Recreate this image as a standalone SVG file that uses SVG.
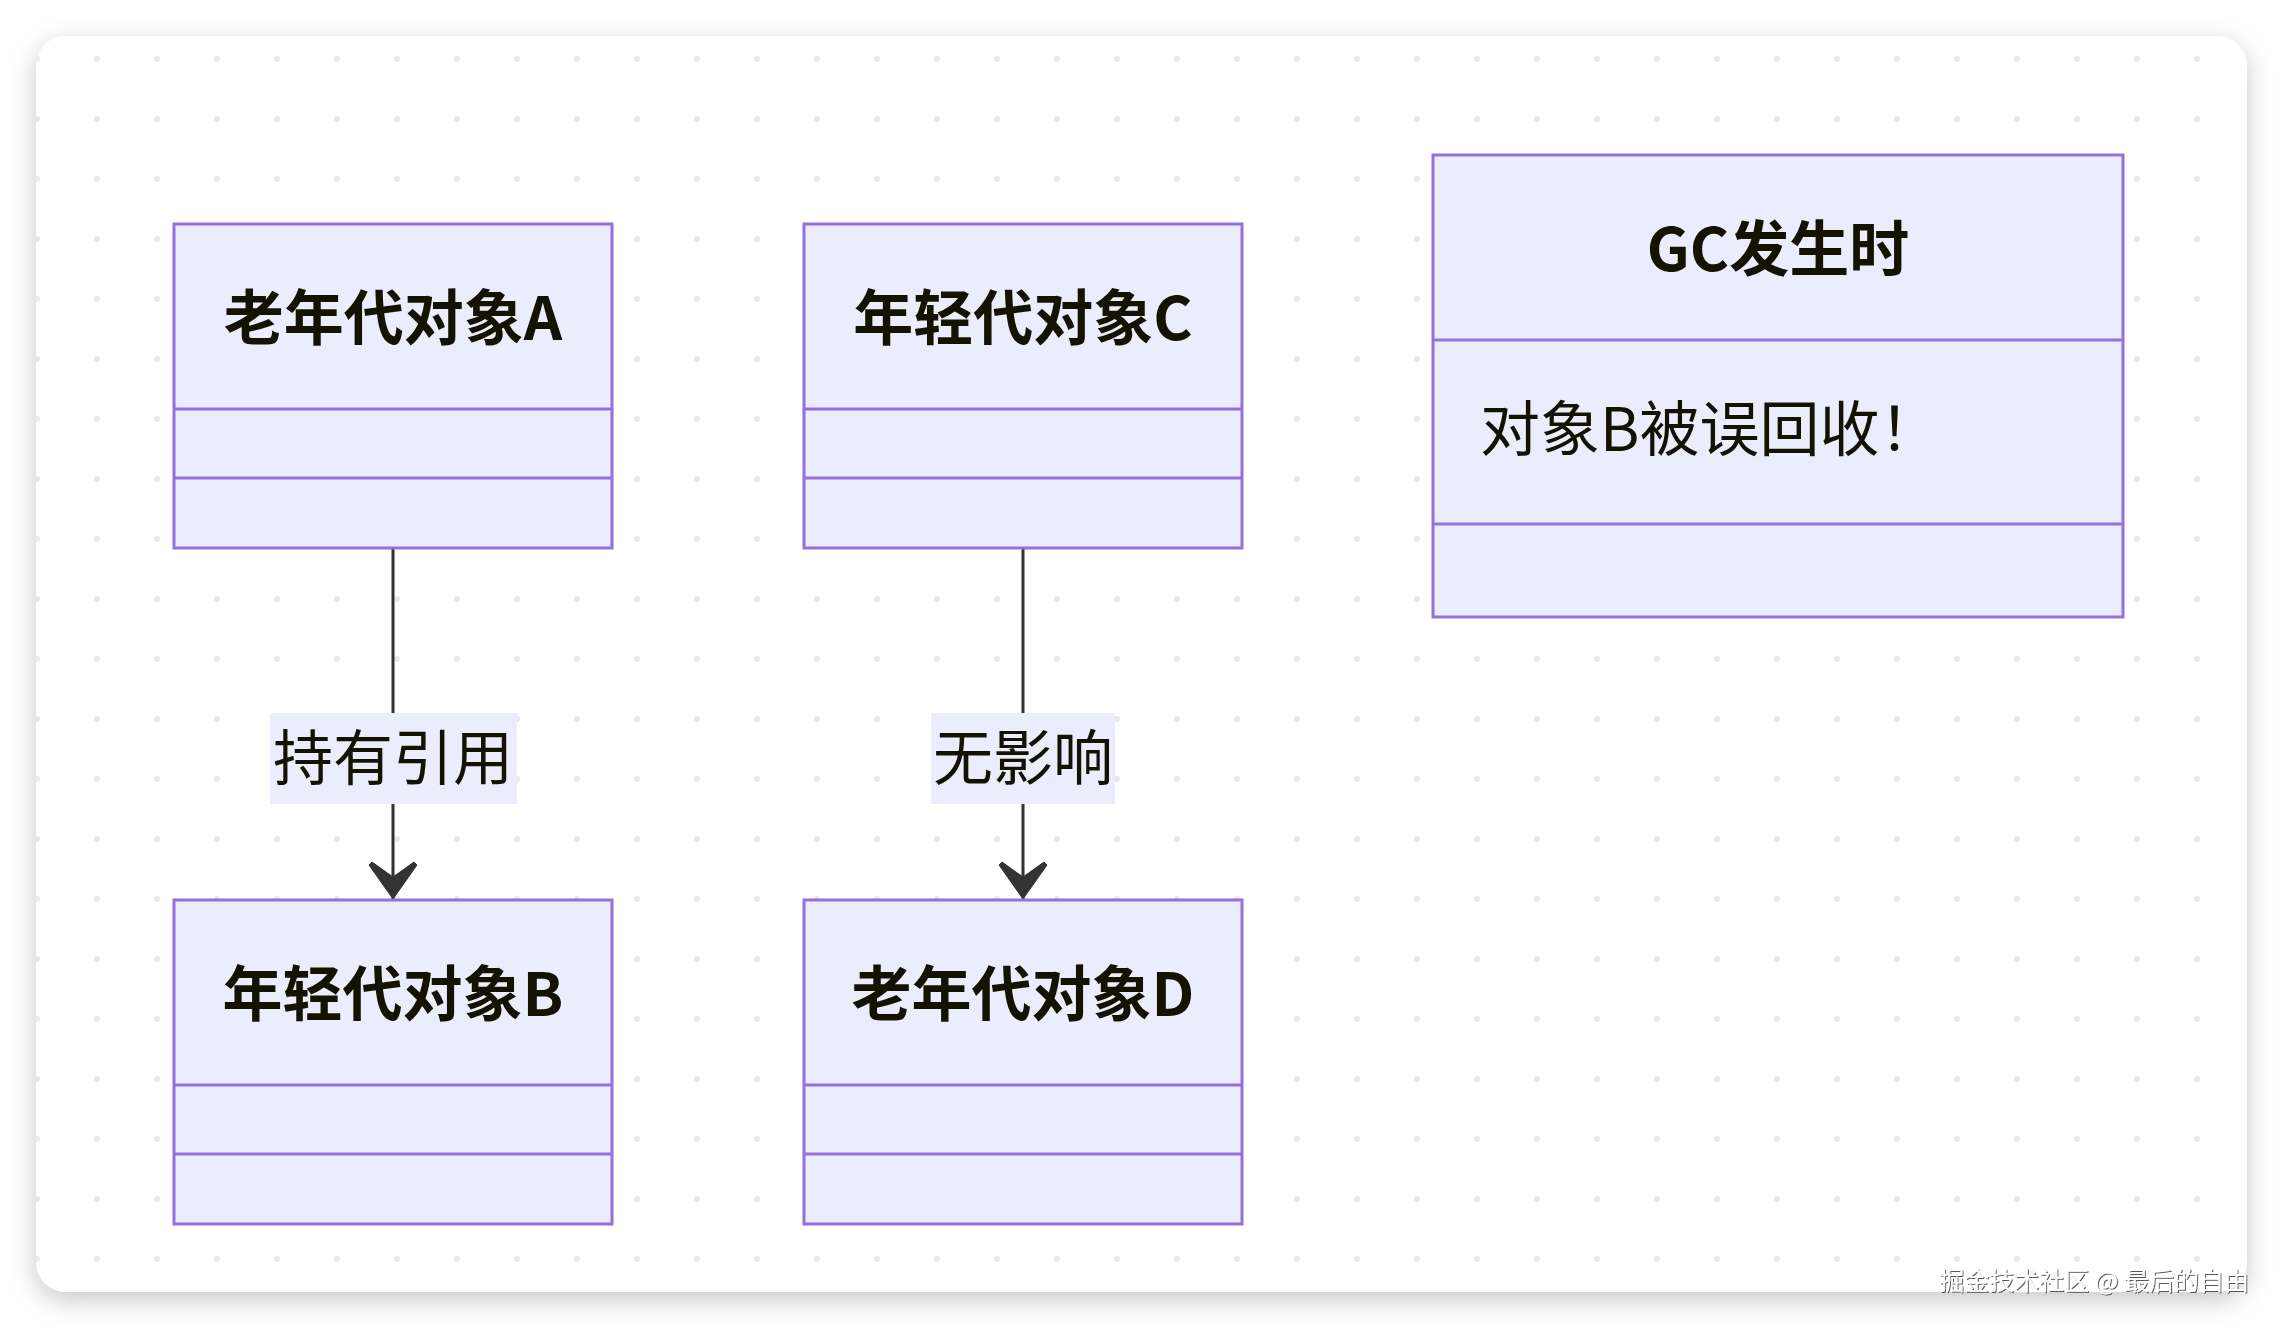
<svg xmlns="http://www.w3.org/2000/svg" width="2284" height="1328" viewBox="0 0 2284 1328">
  <defs>
    <filter id="cardShadow" x="-5%" y="-5%" width="110%" height="112%">
      <feDropShadow dx="0" dy="8" stdDeviation="13" flood-color="#000" flood-opacity="0.22"/>
    </filter>
    <filter id="wmShadow" x="-5%" y="-20%" width="110%" height="160%">
      <feDropShadow dx="1" dy="1" stdDeviation="0.6" flood-color="#444" flood-opacity="0.9"/>
    </filter>
    <pattern id="dots" x="7" y="29" width="60" height="60" patternUnits="userSpaceOnUse">
      <circle cx="30" cy="30" r="3" fill="#e8e8e8"/>
    </pattern>
    <marker id="arrow" viewBox="0 0 40 50" refX="38" refY="25" markerWidth="40" markerHeight="50" markerUnits="userSpaceOnUse" orient="auto">
      <path d="M38,25 L4,1 L1,4 L16,25 L1,46 L4,49 Z" fill="#333" stroke="#333" stroke-width="1" stroke-linejoin="round"/>
    </marker>
  </defs>
  <style>
    .box { fill: #ECECFF; stroke: #9370DB; stroke-width: 3; }
    .div { stroke: #9370DB; stroke-width: 3; }
    .title { font-family: "Noto Sans CJK SC", "Noto Sans", sans-serif; font-weight: bold; font-size: 60px; fill: #131300; text-anchor: middle; }
    .member { font-family: "Noto Sans CJK SC", "Noto Sans", sans-serif; font-size: 60px; fill: #131300; }
    .edge { stroke: #333; stroke-width: 3; fill: none; }
    .lblbg { fill: #ECECFF; }
    .lbl { font-family: "Noto Sans CJK SC", "Noto Sans", sans-serif; font-size: 60px; fill: #131300; text-anchor: middle; }
    .wm { font-family: "Noto Sans CJK SC", "Noto Sans", sans-serif; font-size: 25px; fill: #ffffff; text-anchor: end; }
  </style>

  <rect x="0" y="0" width="2284" height="1328" fill="#ffffff"/>
  <rect x="36" y="36" width="2211" height="1256" rx="30" ry="30" fill="#ffffff" filter="url(#cardShadow)"/>
  <rect x="36" y="36" width="2211" height="1256" rx="30" ry="30" fill="url(#dots)"/>

  <g id="connectors">
    <line class="edge" x1="393" y1="548" x2="393" y2="899" marker-end="url(#arrow)"/>
    <line class="edge" x1="1023" y1="548" x2="1023" y2="899" marker-end="url(#arrow)"/>
    <g id="label-hold">
      <rect class="lblbg" x="270" y="713" width="247" height="91"/>
      <text class="lbl" x="393" y="780">持有引用</text>
    </g>
    <g id="label-none">
      <rect class="lblbg" x="931" y="713" width="184" height="91"/>
      <text class="lbl" x="1023" y="780">无影响</text>
    </g>
  </g>

  <g id="node-A">
    <rect class="box" x="174" y="224" width="438" height="324"/>
    <line class="div" x1="174" y1="409" x2="612" y2="409"/>
    <line class="div" x1="174" y1="478" x2="612" y2="478"/>
    <text class="title" x="393" y="340">老年代对象A</text>
  </g>

  <g id="node-C">
    <rect class="box" x="804" y="224" width="438" height="324"/>
    <line class="div" x1="804" y1="409" x2="1242" y2="409"/>
    <line class="div" x1="804" y1="478" x2="1242" y2="478"/>
    <text class="title" x="1023" y="340">年轻代对象C</text>
  </g>

  <g id="node-B">
    <rect class="box" x="174" y="900" width="438" height="324"/>
    <line class="div" x1="174" y1="1085" x2="612" y2="1085"/>
    <line class="div" x1="174" y1="1154" x2="612" y2="1154"/>
    <text class="title" x="393" y="1016">年轻代对象B</text>
  </g>

  <g id="node-D">
    <rect class="box" x="804" y="900" width="438" height="324"/>
    <line class="div" x1="804" y1="1085" x2="1242" y2="1085"/>
    <line class="div" x1="804" y1="1154" x2="1242" y2="1154"/>
    <text class="title" x="1023" y="1016">老年代对象D</text>
  </g>

  <g id="node-GC">
    <rect class="box" x="1433" y="155" width="690" height="462"/>
    <line class="div" x1="1433" y1="340" x2="2123" y2="340"/>
    <line class="div" x1="1433" y1="524" x2="2123" y2="524"/>
    <text class="title" x="1778" y="271">GC发生时</text>
    <text class="member" x="1480" y="451">对象B被误回收！</text>
  </g>

  <text class="wm" x="2249" y="1290" filter="url(#wmShadow)">掘金技术社区 @ 最后的自由</text>
</svg>
